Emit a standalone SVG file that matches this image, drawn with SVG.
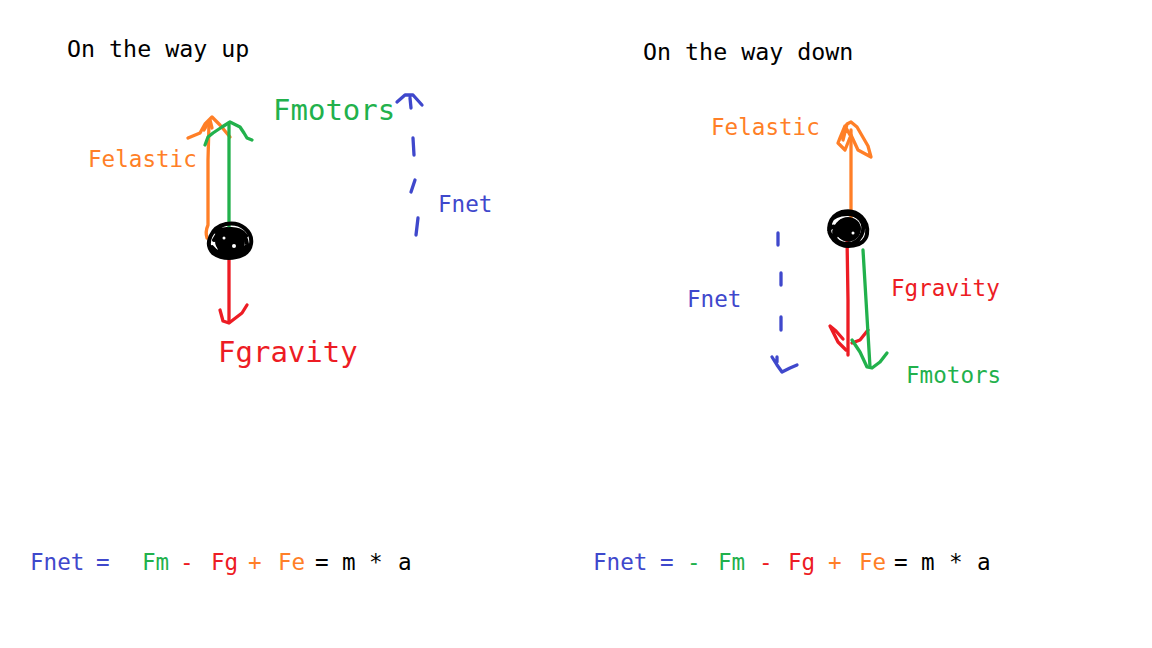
<svg xmlns="http://www.w3.org/2000/svg" width="1152" height="648" viewBox="0 0 1152 648">
<style>
text{font-family:"DejaVu Sans Mono","Liberation Mono",monospace;font-size:22.6px}
.big{font-size:29px}
.t{font-size:23.3px}
.k{fill:#000}.b{fill:#3F48CC}.g{fill:#22B14C}.r{fill:#ED1C24}.o{fill:#FF7F27}
.s{fill:none;stroke-width:3.3;stroke-linecap:round;stroke-linejoin:round}
.sk{stroke:#000;stroke-width:4}.sb{stroke:#3F48CC}.sg{stroke:#22B14C}.sr{stroke:#ED1C24}.so{stroke:#FF7F27}
</style>
<rect width="1152" height="648" fill="#fff"/>
<g id="titles">
<text class="k t" x="67" y="57">On the way up</text>
<text class="k t" x="643" y="60">On the way down</text>
</g>
<g id="connectors">
<!-- left: orange up -->
<path class="s so" d="M207,238 Q205,232 208,225 L208,160 L209,123"/>
<path class="s so" d="M188,138 L200,133 L205,124 L212,117 L220,125 L230,137 M204,130 L210,120 L212,128"/>
<!-- left: green up -->
<path class="s sg" d="M229,240 L229,160 L229,123"/>
<path class="s sg" d="M205,145 L208,137 L213,133 L222,127 L230,122 L240,127 L244,133 L247,138 L252,140"/>
<!-- left: red down -->
<path class="s sr" d="M229,250 L229,322"/>
<path class="s sr" d="M220,310 L223,321 L229,323 L242,313 L247,305"/>
<!-- left: blue dashed up -->
<path class="s sb" d="M397,102 L405,95 L413,95 L422,105 M410,98 L411,108"/>
<path class="s sb" d="M413,138 L414,155 M415,180 L411,192 M418,218 L416,235"/>
<!-- right: orange up -->
<path class="s so" d="M851,227 L851,130"/>
<path class="s so" d="M850,135 L845,126 L840,138 L838,143 L845,150 L851,135 L858,150 L871,157 L868,146 L857,127 L851,122 L847,124 L843,140"/>
<!-- right: red down -->
<path class="s sr" d="M847,237 L848,300 L848,355"/>
<path class="s sr" d="M846,350 L838,342 L832,330 L830,326 L836,331 L843,339 M852,343 L860,340 L868,330"/>
<!-- right: green down -->
<path class="s sg" d="M863,250 L866,300 L870,367"/>
<path class="s sg" d="M852,340 L860,352 L867,367 L872,368 L880,362 L887,353"/>
<!-- right: blue dashed down -->
<path class="s sb" d="M778,233 L778,245 M781,273 L781,285 M781,317 L781,330"/>
<path class="s sb" d="M772,357 L777,365 L782,372 L790,368 L797,365 M777,357 L777,362"/>
</g>
<g id="ball-left">
<ellipse cx="230" cy="241" rx="15" ry="13" fill="#000"/>
<path class="s sk" d="M226,224 C241,221 253,232 251,244 C249,258 226,262 213,253 C204,244 211,227 226,224 Z M216,232 C228,225 248,232 247,245 C245,257 220,259 212,247 M220,235 C232,229 245,238 242,249 C237,258 218,256 218,242 M214,240 C220,226 240,226 246,236"/>
<circle cx="234" cy="246" r="2" fill="#fff"/>
<circle cx="224" cy="238" r="1.5" fill="#fff"/>
</g>
<g id="ball-right">
<ellipse cx="848" cy="229" rx="13" ry="12" fill="#000"/>
<path class="s sk" d="M842,212 C858,208 869,221 867,234 C865,247 844,250 834,240 C825,231 829,216 842,212 Z M830,226 C829,214 851,210 860,219 C868,229 860,245 846,244 C832,243 830,229 842,221 M836,233 C837,221 853,219 857,230 C859,241 843,243 839,234 M829,230 C833,222 842,230 836,236"/>
<circle cx="853" cy="233" r="1.5" fill="#fff"/>
</g>
<g id="labels">
<text class="g big" x="273" y="120">Fmotors</text>
<text class="o" x="88" y="167">Felastic</text>
<text class="b" x="438" y="212">Fnet</text>
<text class="r big" x="218" y="362">Fgravity</text>
<text class="o" x="711" y="135">Felastic</text>
<text class="r" x="891" y="296">Fgravity</text>
<text class="b" x="687" y="307">Fnet</text>
<text class="g" x="906" y="383">Fmotors</text>
</g>
<g id="equation-left">
<text y="570"><tspan class="b" x="30">Fnet</tspan><tspan class="b" x="96">=</tspan><tspan class="g" x="142">Fm</tspan><tspan class="r" x="180">-</tspan><tspan class="r" x="211">Fg</tspan><tspan class="o" x="248">+</tspan><tspan class="o" x="278">Fe</tspan><tspan class="k" x="315">=</tspan><tspan class="k" x="342">m</tspan><tspan class="k" x="369">*</tspan><tspan class="k" x="398">a</tspan></text>
</g>
<g id="equation-right">
<text y="570"><tspan class="b" x="593">Fnet</tspan><tspan class="b" x="660">=</tspan><tspan class="g" x="687">-</tspan><tspan class="g" x="718">Fm</tspan><tspan class="r" x="759">-</tspan><tspan class="r" x="788">Fg</tspan><tspan class="o" x="828">+</tspan><tspan class="o" x="859">Fe</tspan><tspan class="k" x="894">=</tspan><tspan class="k" x="921">m</tspan><tspan class="k" x="949">*</tspan><tspan class="k" x="977">a</tspan></text>
</g>
</svg>
